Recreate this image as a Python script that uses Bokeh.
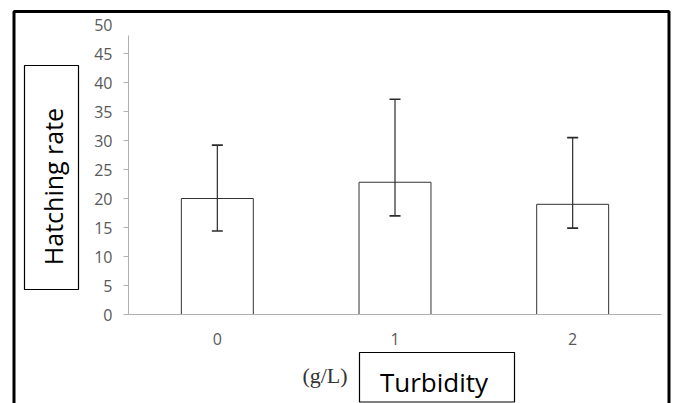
from math import pi
from bokeh.plotting import figure
from bokeh.models import (Range1d, ColumnDataSource, Whisker, TeeHead, FixedTicker)
from bokeh.core.properties import value
from bokeh.embed import file_html
from bokeh.resources import INLINE

# ---- data ----
categories = ["0", "1", "2"]
hatching_rate = [20.0, 22.8, 19.0]
err_lower = [14.4, 17.0, 14.9]
err_upper = [29.2, 37.1, 30.5]
y_ticks = [0, 5, 10, 15, 20, 25, 30, 35, 40, 45]
y_top_label = 50
y_title = "Hatching rate"
x_title = "Turbidity"
x_unit = "(g/L)"

W, H = 674, 403
FL, FR, FT, FB = 128, 661, 24, 314  # frame edges in canvas px

xpos = [i + 0.5 for i in range(len(categories))]
src = ColumnDataSource(dict(x=xpos, val=hatching_rate, lo=err_lower, hi=err_upper))

p = figure(width=W, height=H, x_range=Range1d(0, len(categories)), y_range=Range1d(0, 50),
           output_backend="svg", toolbar_location=None,
           min_border_left=FL, min_border_right=W - FR, min_border_top=FT, min_border_bottom=H - FB)
p.outline_line_color = None
p.xgrid.grid_line_color = None
p.ygrid.grid_line_color = None
p.background_fill_color = "white"
p.border_fill_color = "white"

# pixel-space ranges for the decorative frame / text boxes
p.extra_x_ranges = {"px": Range1d(FL, FR)}
p.extra_y_ranges = {"px": Range1d(FB, FT)}

p.vbar(x="x", top="val", bottom=0, width=0.405, source=src,
       fill_color="white", line_color="#333333", line_width=1)

wh = Whisker(base="x", lower="lo", upper="hi", source=src, dimension="height",
             line_color="#2b2b2b", line_width=1.2, level="overlay",
             upper_head=TeeHead(size=11, line_color="#2b2b2b", line_width=1.6),
             lower_head=TeeHead(size=11, line_color="#2b2b2b", line_width=1.6))
p.add_layout(wh)

tick_font = "Open Sans"
tick_size = "16px"
tick_color = "#595959"
p.yaxis.ticker = FixedTicker(ticks=y_ticks)
p.yaxis.bounds = (0, 48.1)
p.yaxis.axis_line_color = "#b0b0b0"
p.yaxis.major_tick_line_color = "#b0b0b0"
p.yaxis.major_tick_out = 5
p.yaxis.major_tick_in = 0
p.yaxis.minor_tick_line_color = None
p.yaxis.major_label_standoff = 11
p.yaxis.major_label_text_font = tick_font
p.yaxis.major_label_text_font_size = tick_size
p.yaxis.major_label_text_color = tick_color

p.xaxis.ticker = FixedTicker(ticks=xpos)
p.xaxis.major_label_overrides = {x: c for x, c in zip(xpos, categories)}
p.xaxis.axis_line_color = "#b0b0b0"
p.xaxis.major_tick_line_color = None
p.xaxis.minor_tick_line_color = None
p.xaxis.major_label_standoff = 12
p.xaxis.major_label_text_font = tick_font
p.xaxis.major_label_text_font_size = tick_size
p.xaxis.major_label_text_color = tick_color

kw = dict(x_range_name="px", y_range_name="px", level="overlay")

# top tick label (the axis line of the original stops short of it)
p.text(x=[FL - 16], y=[y_top_label], text=[str(y_top_label)], text_align="right",
       text_baseline="middle", text_font=value(tick_font), text_font_size=value(tick_size),
       text_color=tick_color, x_range_name="px", level="overlay")

# outer frame
p.quad(left=[13.5], right=[668.5], top=[11], bottom=[420], fill_color=None,
       line_color="black", line_width=3, **kw)
# title boxes
p.quad(left=[24, 359], right=[78, 514], top=[65, 352], bottom=[289, 401.5], fill_color=None,
       line_color="black", line_width=1.2, **kw)

p.text(x=[52], y=[186], text=[y_title], angle=pi / 2, text_align="center",
       text_baseline="alphabetic", text_font=value("Open Sans"), text_font_size=value("25px"),
       text_color="black", **kw)
p.text(x=[433.5], y=[381], text=[x_title], text_align="center",
       text_baseline="alphabetic", text_font=value("Open Sans"), text_font_size=value("26px"),
       text_color="black", **kw)
p.text(x=[324.5], y=[375], text=[x_unit], text_align="center",
       text_baseline="alphabetic", text_font=value("Liberation Serif"), text_font_size=value("22px"),
       text_color="#333333", **kw)

open("out.html", "w").write(file_html(p, INLINE))
